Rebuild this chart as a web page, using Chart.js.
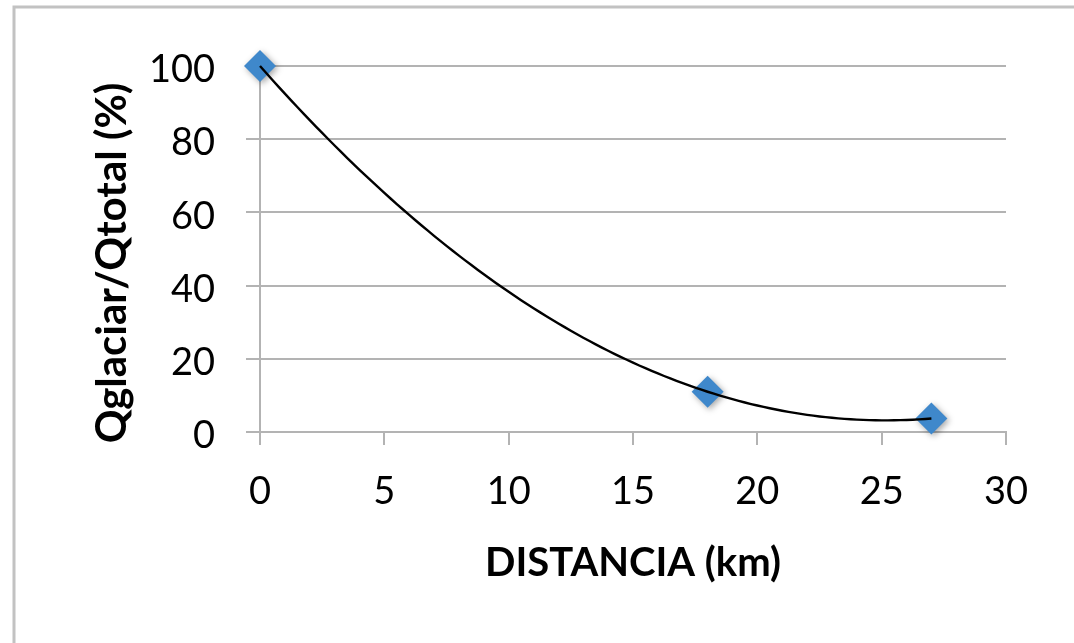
<!DOCTYPE html>
<html>
<head>
<meta charset="utf-8">
<script src="https://cdn.jsdelivr.net/npm/chart.js@4.4.1/dist/chart.umd.min.js"></script>
<style>
  html, body { margin: 0; padding: 0; background: #fff; overflow: hidden; }
  #wrap { width: 1074px; height: 643px; }
</style>
</head>
<body>
<div id="wrap"><canvas id="c" width="1074" height="643"></canvas></div>
<script>
// Measured points: distance downstream vs. glacier share of total discharge
const distanciaKm = [0, 18, 27];
const qGlaciarPct = [100, 11, 3.7];

// Axis tick values
const xTicks = [0, 5, 10, 15, 20, 25, 30];
const yTicks = [0, 20, 40, 60, 80, 100];

// Axis titles
const xTitle = 'DISTANCIA (km)';
const yTitle = 'Qglaciar/Qtotal (%)';

// Second-order polynomial trendline fitted to the measured points (least squares)
function fitQuadratic(xs, ys) {
  // Normal equations for y = a + b x + c x^2
  const S = [0, 0, 0, 0, 0], T = [0, 0, 0];
  xs.forEach((x, i) => {
    for (let k = 0; k < 5; k++) S[k] += Math.pow(x, k);
    for (let k = 0; k < 3; k++) T[k] += ys[i] * Math.pow(x, k);
  });
  const M = [[S[0], S[1], S[2], T[0]], [S[1], S[2], S[3], T[1]], [S[2], S[3], S[4], T[2]]];
  for (let i = 0; i < 3; i++) {
    let p = i;
    for (let r = i + 1; r < 3; r++) if (Math.abs(M[r][i]) > Math.abs(M[p][i])) p = r;
    [M[i], M[p]] = [M[p], M[i]];
    for (let r = 0; r < 3; r++) {
      if (r === i) continue;
      const f = M[r][i] / M[i][i];
      for (let c = i; c < 4; c++) M[r][c] -= f * M[i][c];
    }
  }
  return [M[0][3] / M[0][0], M[1][3] / M[1][1], M[2][3] / M[2][2]];
}
const coef = fitQuadratic(distanciaKm, qGlaciarPct);
const xMin = Math.min(...distanciaKm), xMax = Math.max(...distanciaKm);
const trendPoints = [];
for (let i = 0; i <= 108; i++) {
  const x = xMin + (xMax - xMin) * i / 108;
  trendPoints.push({ x: x, y: coef[0] + coef[1] * x + coef[2] * x * x });
}

const markerPoints = distanciaKm.map((x, i) => ({ x: x, y: qGlaciarPct[i] }));

const FONT = 'Lato, "Open Sans", sans-serif';
const GRID = '#b3b3b3';

// Outer chart frame
const framePlugin = {
  id: 'frame',
  beforeDraw(chart) {
    const ctx = chart.ctx;
    ctx.save();
    ctx.strokeStyle = '#c2c2c2';
    ctx.lineWidth = 3;
    ctx.beginPath();
    ctx.moveTo(14, 643);
    ctx.lineTo(14, 7);
    ctx.lineTo(1074, 7);
    ctx.stroke();
    ctx.restore();
  }
};

// Vertical axis title, rotated, sitting slightly below the plot's mid-height
const yTitlePlugin = {
  id: 'yTitle',
  afterDraw(chart) {
    const { ctx, chartArea } = chart;
    ctx.save();
    ctx.translate(112, (chartArea.top + chartArea.bottom) / 2 + 14);
    ctx.rotate(-Math.PI / 2);
    ctx.font = 'bold 42px ' + FONT;
    ctx.fillStyle = '#000';
    ctx.textAlign = 'center';
    ctx.textBaseline = 'middle';
    ctx.fillText(yTitle, 0, 0);
    ctx.restore();
  }
};

// Soft drop shadow under the diamond markers
const shadowPlugin = {
  id: 'markerShadow',
  beforeDatasetDraw(chart, args) {
    if (args.index !== 1) return;
    const ctx = chart.ctx;
    ctx.save();
    ctx.shadowColor = 'rgba(0,0,0,0.35)';
    ctx.shadowBlur = 6;
    ctx.shadowOffsetX = 2;
    ctx.shadowOffsetY = 2;
  },
  afterDatasetDraw(chart, args) {
    if (args.index !== 1) return;
    chart.ctx.restore();
  }
};

new Chart(document.getElementById('c'), {
  type: 'scatter',
  data: {
    datasets: [
      {
        type: 'line',
        label: 'Polinómica',
        data: trendPoints,
        borderColor: '#000',
        borderWidth: 2.4,
        pointRadius: 0,
        fill: false,
        tension: 0,
        clip: false
      },
      {
        label: 'Qglaciar/Qtotal',
        data: markerPoints,
        pointStyle: 'rectRot',
        pointRadius: 16,
        pointHoverRadius: 16,
        backgroundColor: '#3f88cb',
        borderColor: '#3f88cb',
        borderWidth: 0,
        clip: false
      }
    ]
  },
  options: {
    responsive: false,
    animation: false,
    events: [],
    layout: { padding: { top: 66, right: 68, left: 0, bottom: 0 } },
    plugins: { legend: { display: false }, tooltip: { enabled: false } },
    scales: {
      x: {
        type: 'linear',
        min: 0, max: 30,
        afterBuildTicks(scale) { scale.ticks = xTicks.map(v => ({ value: v })); },
        afterFit(scale) { scale.height = 211; },
        border: { display: true, color: GRID, width: 2 },
        grid: { drawOnChartArea: false, drawTicks: true, tickLength: 13, color: GRID, lineWidth: 2 },
        ticks: { color: '#000', padding: 24, font: { family: FONT, size: 38 } },
        title: {
          display: true, text: xTitle, color: '#000',
          font: { family: FONT, size: 40, weight: 'bold' },
          padding: { top: 0, bottom: 56 }
        }
      },
      y: {
        type: 'linear',
        min: 0, max: 100,
        afterBuildTicks(scale) { scale.ticks = yTicks.map(v => ({ value: v })); },
        afterFit(scale) { scale.width = 260; },
        border: { display: true, color: GRID, width: 2 },
        grid: { drawOnChartArea: true, drawTicks: true, tickLength: 14, color: GRID, lineWidth: 2 },
        ticks: { color: '#000', padding: 31, labelOffset: 4, font: { family: FONT, size: 38 } },
        title: { display: false }
      }
    }
  },
  plugins: [framePlugin, shadowPlugin, yTitlePlugin]
});
</script>
</body>
</html>
